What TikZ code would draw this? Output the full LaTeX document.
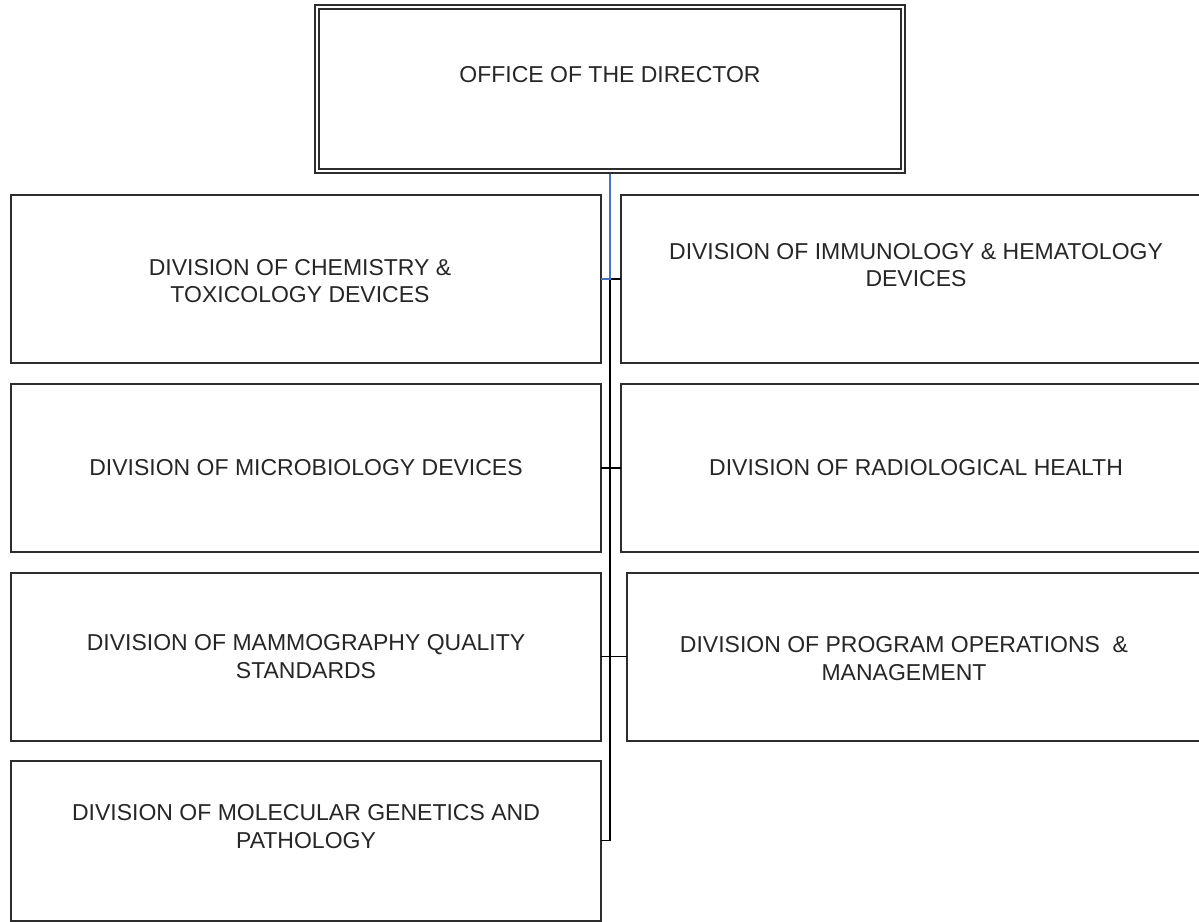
\documentclass[tikz,border=0pt]{standalone}
\usepackage{fontspec}
\setmainfont{Liberation Sans}
\usepackage{tikz}

\definecolor{linkblue}{RGB}{68,114,196}
\definecolor{boxgray}{RGB}{45,45,45}

\begin{document}
\begin{tikzpicture}[x=0.5pt, y=-0.5pt,
    divbox/.style={draw=boxgray, line width=1pt, minimum width=295pt,
        minimum height=84pt, inner sep=0pt, outer sep=0pt},
    divtext/.style={align=center, text=black!85,
        font=\fontsize{11.5}{13.8}\selectfont},
    link/.style={line width=0.75pt, black}]

    %% Background
    \useasboundingbox (0,0) rectangle (1199,921);
    \clip (0,0) rectangle (1199,921);

    % Director
    \node[divbox, minimum width=293pt, minimum height=82pt,
        line width=1pt, double, double distance=1pt, outer sep=1.5pt]
        (director) at (610,89) {};

    % Divisions, left column
    \node[divbox] (chem)  at (306,279) {};
    \node[divbox] (micro) at (306,468) {};
    \node[divbox] (mammo) at (306,656.5) {};
    \node[divbox, minimum height=80pt] (molec) at (306,840.5) {};

    % Divisions, right column
    \node[divbox] (immuno) at (916,279) {};
    \node[divbox] (radio)  at (916,468) {};
    \node[divbox] (progops) at (922,656.5) {};

    % Connectors
    \draw[link] (director.south) |- (immuno.west);
    \draw[link] (director.south) |- (micro.east);
    \draw[link] (director.south) |- (radio.west);
    \draw[link] (director.south) |- (mammo.east);
    \draw[link] (director.south) |- (progops.west);
    \draw[link] (director.south) |- (molec.east);
    \draw[link, linkblue] (director.south) |- (chem.east);

    % Labels
    \node[divtext] (directortext) at ([yshift=7pt]director.center)
        {OFFICE OF THE DIRECTOR};
    \node[divtext] (chemtext) at ([xshift=-3pt,yshift=-1pt]chem.center)
        {DIVISION OF CHEMISTRY \&\\TOXICOLOGY DEVICES};
    \node[divtext] (microtext) at (micro.center)
        {DIVISION OF MICROBIOLOGY DEVICES};
    \node[divtext] (mammotext) at (mammo.center)
        {DIVISION OF MAMMOGRAPHY QUALITY\\STANDARDS};
    \node[divtext] (molectext) at ([yshift=7pt]molec.center)
        {DIVISION OF MOLECULAR GENETICS AND\\PATHOLOGY};
    \node[divtext] (immunotext) at ([yshift=7pt]immuno.center)
        {DIVISION OF IMMUNOLOGY \& HEMATOLOGY\\DEVICES};
    \node[divtext] (radiotext) at (radio.center)
        {DIVISION OF RADIOLOGICAL HEALTH};
    \node[divtext] (progopstext) at ([xshift=-9pt,yshift=-1pt]progops.center)
        {DIVISION OF PROGRAM OPERATIONS~ \&\\MANAGEMENT};

\end{tikzpicture}
\end{document}
